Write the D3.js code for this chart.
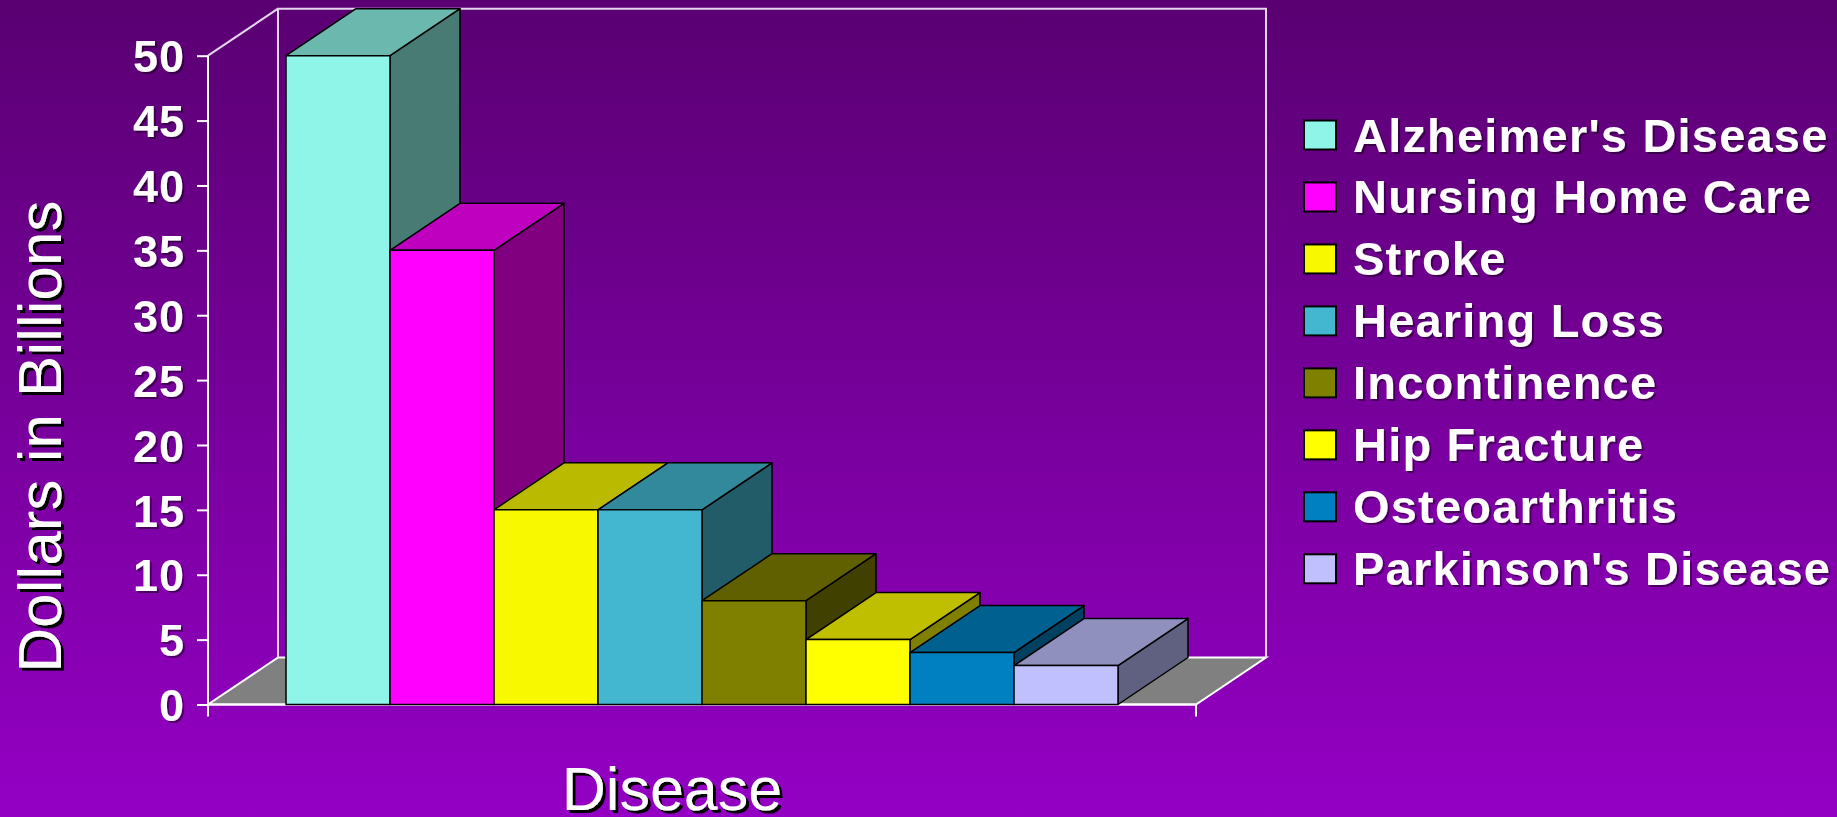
<!DOCTYPE html>
<html>
	<meta charset="utf-8" />
	<style>
		html,
		body,
		svg {
			padding: 0px;
			margin: 0px;
			display: block;
		}
		text {
			font-family: "Liberation Sans", Arial, sans-serif;
			fill: #fff;
		}
	</style>
	<svg width="1837" height="817"></svg>
	<script src="https://d3js.org/d3.v7.min.js"></script>
	<script>
		// chart data
		var series = ["Alzheimer's Disease", "Nursing Home Care", "Stroke", "Hearing Loss", "Incontinence", "Hip Fracture", "Osteoarthritis", "Parkinson's Disease"];
		var values = [50, 35, 15, 15, 8, 5, 4, 3];
		var colors = ["#8ff5e8", "#ff00ff", "#f8f800", "#42b7cf", "#808000", "#ffff00", "#0080c0", "#c0c0ff"];
		var yTicks = [0, 5, 10, 15, 20, 25, 30, 35, 40, 45, 50];

		var svg = d3.select("svg"),
			width = +svg.attr("width"),
			height = +svg.attr("height");

		// 3d depth offset of the floor / bars
		var dx = 70,
			dy = -47;

		var y = d3.scaleLinear().domain([0, 50]).range([704.5, 55.7]);
		var x = d3.scaleBand().domain(series).range([208, 1196]).paddingInner(0).paddingOuter(0.75);

		var defs = svg.append("defs");
		var grad = defs.append("linearGradient").attr("id", "bg").attr("x1", 0).attr("y1", 0).attr("x2", 0).attr("y2", 1);
		grad.append("stop").attr("offset", "0%").attr("stop-color", "#5a0072");
		grad.append("stop").attr("offset", "100%").attr("stop-color", "#9400c4");

		var shadow = defs.append("filter").attr("id", "shadow").attr("x", "-10%").attr("y", "-10%").attr("width", "120%").attr("height", "120%");
		shadow.append("feDropShadow").attr("dx", 3).attr("dy", 3).attr("stdDeviation", 0).attr("flood-color", "#000").attr("flood-opacity", 1);
		var soft = defs.append("filter").attr("id", "soft").attr("x", "-10%").attr("y", "-10%").attr("width", "120%").attr("height", "120%");
		soft.append("feDropShadow").attr("dx", 2).attr("dy", 2).attr("stdDeviation", 0.5).attr("flood-color", "#000").attr("flood-opacity", 0.45);

		svg.append("rect").attr("width", width).attr("height", height).attr("fill", "url(#bg)");

		var x0 = x.range()[0],
			x1 = x.range()[1],
			yb = y(0),
			yt = y(50);

		// floor
		svg.append("path")
			.attr("d", "M" + x0 + "," + yb + "L" + x1 + "," + yb + "L" + (x1 + dx) + "," + (yb + dy) + "L" + (x0 + dx) + "," + (yb + dy) + "Z")
			.attr("fill", "#808080")
			.attr("stroke", "#fff")
			.attr("stroke-width", 2);

		// back wall + side wall edges
		var wall = svg.append("g").attr("fill", "none").attr("stroke", "#e6d6ee").attr("stroke-width", 2);
		wall.append("path").attr("d", "M" + (x0 + dx) + "," + (yb + dy) + "V" + (yt + dy) + "H" + (x1 + dx) + "V" + (yb + dy));
		wall.append("path").attr("d", "M" + x0 + "," + yt + "L" + (x0 + dx) + "," + (yt + dy));

		// y axis
		var axis = svg.append("g")
			.attr("transform", "translate(" + x0 + ",0)")
			.call(d3.axisLeft(y).tickValues(yTicks).tickSize(11).tickSizeOuter(0).tickPadding(12));
		axis.select(".domain").remove();
		axis.selectAll(".tick line").attr("stroke", "#fff").attr("stroke-width", 2);
		axis.selectAll(".tick text")
			.attr("fill", "#fff")
			.attr("filter", "url(#soft)")
			.style("font-family", '"Liberation Sans", Arial, sans-serif')
			.style("font-size", "45px")
			.style("font-weight", "bold")
			.style("letter-spacing", "1px")
			.attr("dy", "0.36em");
		svg.append("line").attr("x1", x0).attr("x2", x0).attr("y1", yt).attr("y2", yb + 12).attr("stroke", "#fff").attr("stroke-width", 2);
		svg.append("line").attr("x1", x0).attr("x2", x1).attr("y1", yb).attr("y2", yb).attr("stroke", "#fff").attr("stroke-width", 2);
		svg.append("line").attr("x1", x1).attr("x2", x1).attr("y1", yb).attr("y2", yb + 12).attr("stroke", "#fff").attr("stroke-width", 2);

		// bars, left to right so the next front face hides the previous side
		var bars = svg.append("g").attr("stroke", "#000").attr("stroke-width", 1.5).attr("stroke-linejoin", "round");
		series.forEach(function (s, i) {
			var c = d3.rgb(colors[i]);
			var bx = x(s),
				bw = x.bandwidth(),
				by = y(values[i]);
			var top = d3.rgb(c.r * 0.75, c.g * 0.75, c.b * 0.75);
			var side = d3.rgb(c.r * 0.5, c.g * 0.5, c.b * 0.5);
			var g = bars.append("g");
			g.append("path")
				.attr("d", "M" + (bx + bw) + "," + yb + "L" + (bx + bw + dx) + "," + (yb + dy) + "L" + (bx + bw + dx) + "," + (by + dy) + "L" + (bx + bw) + "," + by + "Z")
				.attr("fill", side);
			g.append("path")
				.attr("d", "M" + bx + "," + by + "L" + (bx + dx) + "," + (by + dy) + "L" + (bx + bw + dx) + "," + (by + dy) + "L" + (bx + bw) + "," + by + "Z")
				.attr("fill", top);
			g.append("rect").attr("x", bx).attr("y", by).attr("width", bw).attr("height", yb - by).attr("fill", c);
		});

		// axis titles
		svg.append("g")
			.attr("filter", "url(#shadow)")
			.append("text")
			.attr("transform", "translate(61,436.5) rotate(-90)")
			.attr("text-anchor", "middle")
			.style("font-size", "62px")
			.text("Dollars in Billions");
		svg.append("g")
			.attr("filter", "url(#shadow)")
			.append("text")
			.attr("x", 672)
			.attr("y", 810)
			.attr("text-anchor", "middle")
			.style("font-size", "61px")
			.text("Disease");

		// legend
		var legend = svg.append("g").attr("transform", "translate(1304,135)");
		var item = legend
			.selectAll("g")
			.data(series)
			.enter()
			.append("g")
			.attr("transform", function (d, i) {
				return "translate(0," + i * 61.97 + ")";
			});
		item.append("rect")
			.attr("x", 0)
			.attr("y", -14.5)
			.attr("width", 32)
			.attr("height", 29)
			.attr("fill", function (d, i) {
				return colors[i];
			})
			.attr("stroke", "#000")
			.attr("stroke-width", 2);
		item.append("text")
			.attr("x", 49)
			.attr("y", 16.5)
			.attr("filter", "url(#soft)")
			.style("font-size", "47px")
			.style("font-weight", "bold")
			.style("letter-spacing", "1.2px")
			.text(function (d) {
				return d;
			});
	</script>
</html>
